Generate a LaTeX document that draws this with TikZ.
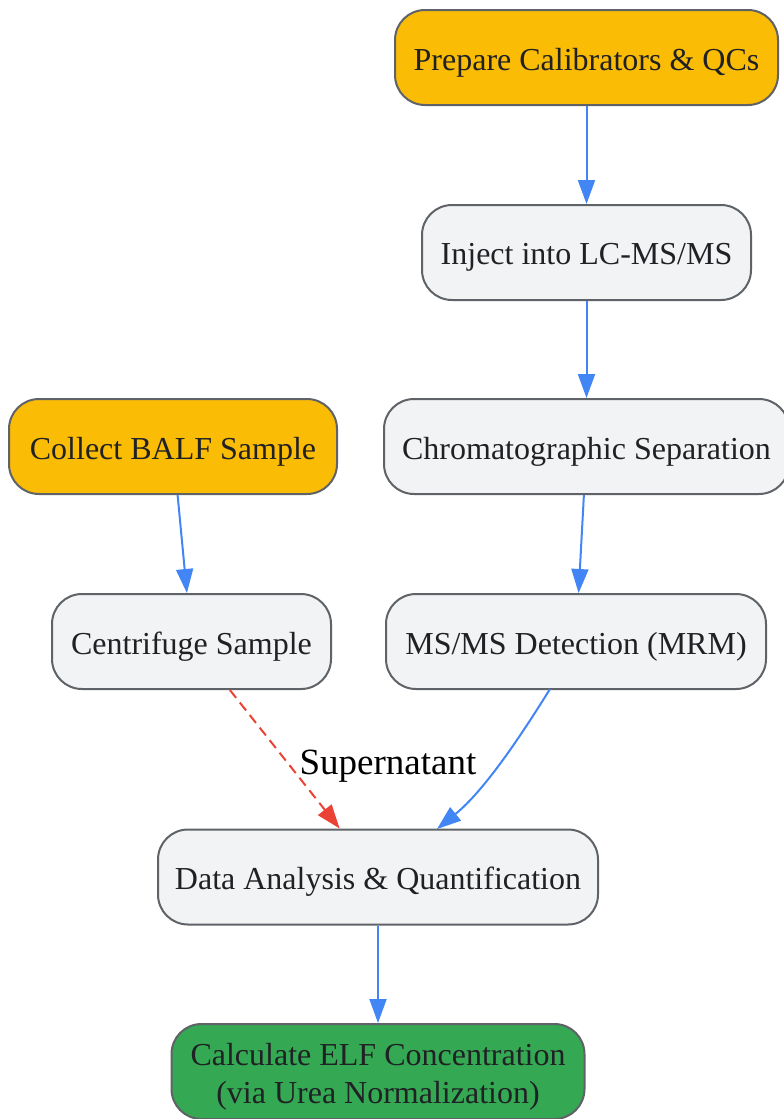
\documentclass[tikz,border=0pt]{standalone}
\usepackage{fontspec}
\setmainfont{Liberation Serif}
\usetikzlibrary{arrows.meta}
\definecolor{ylw}{HTML}{FBBC05}
\definecolor{gry}{HTML}{F1F3F4}
\definecolor{grn}{HTML}{34A853}
\definecolor{bordr}{HTML}{5F6368}
\definecolor{txt}{HTML}{202124}
\definecolor{blu}{HTML}{4285F4}
\definecolor{rd}{HTML}{EA4335}
\newcommand{\lowr}[1]{\raisebox{-5pt}[\height][\depth]{#1}}
\tikzset{
  box/.style={draw=bordr, line width=2pt, rounded corners=30pt, inner sep=0pt,
    minimum height=95pt, align=center, text=txt,
    font=\fontsize{32}{38}\selectfont},
  startbox/.style={box, fill=ylw},
  procbox/.style={box, fill=gry},
  endbox/.style={box, fill=grn},
  flow/.style={draw=blu, line width=2pt, -{Triangle[length=24pt,width=17pt]}},
  sideflow/.style={draw=rd, line width=2pt, dash pattern=on 10pt off 6pt, -{Triangle[length=24pt,width=17pt]}},
  lbl/.style={font=\fontsize{37}{44}\selectfont, text=black, inner sep=0pt}
}
\begin{document}
\begin{tikzpicture}[x=1pt, y=-1pt]
\useasboundingbox (0,0) rectangle (784,1119);
\node[startbox, minimum width=383pt] (prep) at (586.5,57.5) {\lowr{Prepare Calibrators \& QCs}};
\node[procbox, minimum width=329pt] (inj) at (586.5,252.5) {\lowr{Inject into LC-MS/MS}};
\node[procbox, minimum width=405pt] (chrom) at (586.5,446.5) {\lowr{Chromatographic Separation}};
\node[startbox, minimum width=328pt] (coll) at (173,446.5) {\lowr{Collect BALF Sample}};
\node[procbox, minimum width=279pt] (cent) at (191.5,641.5) {\lowr{Centrifuge Sample}};
\node[procbox, minimum width=380pt] (ms) at (576,641.5) {\lowr{MS/MS Detection (MRM)}};
\node[procbox, minimum width=440pt] (data) at (378,877) {\lowr{Data Analysis \& Quantification}};
\node[endbox, minimum width=413pt] (calc) at (378,1071.5) {\lowr{Calculate ELF Concentration}\\\lowr{(via Urea Normalization)}};
\draw[flow] (prep) -- (inj);
\draw[flow] (inj) -- (chrom);
\draw[flow] (chrom) -- (ms);
\draw[flow] (coll) -- (cent);
\draw[sideflow] (cent) -- (data);
\coordinate (msout) at (550,689);
\coordinate (datain) at (437,829);
\draw[flow] (msout) .. controls (522,734) and (485,790) .. (datain);
\draw[flow] (data) -- (calc);
\node[lbl] (sup) at (388,766) {Supernatant};
\end{tikzpicture}
\end{document}
